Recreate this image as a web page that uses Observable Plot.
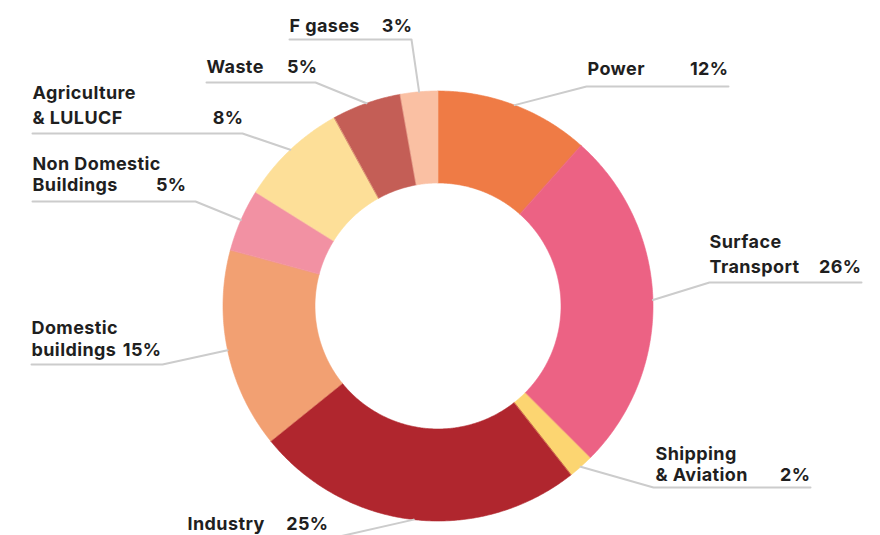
<!DOCTYPE html>
<html>
<head>
<meta charset="utf-8">
<script src="https://cdn.jsdelivr.net/npm/d3@7"></script>
<script src="https://cdn.jsdelivr.net/npm/@observablehq/plot@0.6"></script>
<style>
  html, body { margin: 0; padding: 0; background: #fff; }
  #chart { width: 880px; height: 535px; overflow: hidden; }
  #chart text { letter-spacing: 0.4px; }
</style>
</head>
<body>
<div id="chart"></div>
<script>
// ---- Data ----
const names = ["Power", "Surface Transport", "Shipping & Aviation", "Industry", "Domestic buildings",
               "Non Domestic Buildings", "Agriculture & LULUCF", "Waste", "F gases"];
const shares = [11.6, 25.9, 1.9, 24.8, 15.0, 4.7, 8.1, 5.2, 2.8];
const pctLabels = ["12%", "26%", "2%", "25%", "15%", "5%", "8%", "5%", "3%"];
const labelLines = [["Power"], ["Surface", "Transport"], ["Shipping", "& Aviation"], ["Industry"],
                    ["Domestic", "buildings"], ["Non Domestic", "Buildings"], ["Agriculture", "& LULUCF"],
                    ["Waste"], ["F gases"]];

// ---- Style / layout ----
const colors = ["#EF7B45", "#EC6284", "#FCD571", "#B0262E", "#F2A072", "#F291A3", "#FDDF98", "#C45E56", "#FAC0A3"];
const W = 880, H = 535;
const cx = 437.5, cy = 305.5, rOuter = 215, rInner = 123;
const labelLayout = [
  {elbow: [586, 86],  endX: 728, nameX: 587, baselines: [74],       pctX: 728},
  {elbow: [709, 282], endX: 861, nameX: 709, baselines: [247, 272], pctX: 861},
  {elbow: [653, 487], endX: 810, nameX: 655, baselines: [459, 480], pctX: 810},
  {elbow: [330, 538], endX: 187, nameX: 187, baselines: [529],      pctX: 328},
  {elbow: [162, 364], endX: 31,  nameX: 31,  baselines: [333, 355], pctX: 161},
  {elbow: [195, 201], endX: 32,  nameX: 32,  baselines: [169, 190], pctX: 186},
  {elbow: [242, 133], endX: 32,  nameX: 32,  baselines: [98, 123],  pctX: 243},
  {elbow: [315, 82],  endX: 206, nameX: 206, baselines: [72],       pctX: 317},
  {elbow: [411, 39],  endX: 289, nameX: 289, baselines: [31],       pctX: 412}
];

// ---- Build geometry from data ----
const total = d3.sum(shares);
const pt = (a, r) => [cx + r * Math.sin(a), cy - r * Math.cos(a)];
const slicePts = [];
const leaderPts = [];
const nameTexts = [];
const pctTexts = [];
let acc = 0;
shares.forEach((v, i) => {
  const a0 = acc / total * 2 * Math.PI;
  acc += v;
  const a1 = acc / total * 2 * Math.PI;
  const n = Math.max(4, Math.ceil((a1 - a0) / (Math.PI / 360)));
  for (let k = 0; k <= n; k++) {
    const [x, y] = pt(a0 + (a1 - a0) * k / n, rOuter);
    slicePts.push({name: names[i], x, y});
  }
  for (let k = n; k >= 0; k--) {
    const [x, y] = pt(a0 + (a1 - a0) * k / n, rInner);
    slicePts.push({name: names[i], x, y});
  }
  const L = labelLayout[i];
  const [sx, sy] = pt((a0 + a1) / 2, rOuter);
  leaderPts.push({name: names[i], x: sx, y: sy});
  leaderPts.push({name: names[i], x: L.elbow[0], y: L.elbow[1]});
  leaderPts.push({name: names[i], x: L.endX, y: L.elbow[1]});
  labelLines[i].forEach((t, j) => nameTexts.push({text: t, x: L.nameX, y: L.baselines[j]}));
  pctTexts.push({text: pctLabels[i], x: L.pctX, y: L.baselines[L.baselines.length - 1]});
});

const chart = Plot.plot({
  width: W,
  height: H,
  margin: 0,
  style: {fontFamily: "Inter, 'Open Sans', sans-serif", background: "#fff"},
  x: {domain: [0, W], range: [0, W], axis: null},
  y: {domain: [0, H], range: [0, H], axis: null},
  color: {domain: names, range: colors},
  marks: [
    Plot.line(slicePts, {x: "x", y: "y", z: "name", fill: "name", stroke: "name", strokeWidth: 0.6, curve: "linear-closed"}),
    Plot.line(leaderPts, {x: "x", y: "y", z: "name", stroke: "#cccccc", strokeWidth: 2}),
    Plot.text(nameTexts, {x: "x", y: "y", text: "text", textAnchor: "start", lineAnchor: "bottom",
                          fontSize: 18, fontWeight: 700, fill: "#1f1f1f"}),
    Plot.text(pctTexts, {x: "x", y: "y", text: "text", textAnchor: "end", lineAnchor: "bottom",
                         fontSize: 18, fontWeight: 700, fill: "#1f1f1f"})
  ]
});
document.getElementById("chart").appendChild(chart);
</script>
</body>
</html>
